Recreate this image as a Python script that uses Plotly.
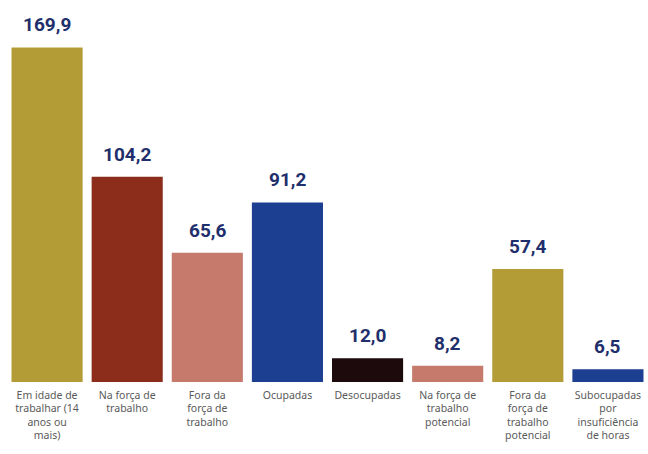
import plotly.graph_objects as go

categories = [
    "Em idade de<br>trabalhar (14<br>anos ou<br>mais)",
    "Na força de<br>trabalho",
    "Fora da<br>força de<br>trabalho",
    "Ocupadas",
    "Desocupadas",
    "Na força de<br>trabalho<br>potencial",
    "Fora da<br>força de<br>trabalho<br>potencial",
    "Subocupadas<br>por<br>insuficiência<br>de horas",
]
values = [169.9, 104.2, 65.6, 91.2, 12.0, 8.2, 57.4, 6.5]
colors = ["#b39b36", "#8c2d1b", "#c57a6c", "#1c3f92", "#1c0a0c", "#c57a6c", "#b39b36", "#1c3f92"]

xs = list(range(len(values)))

fig = go.Figure()
fig.add_trace(go.Bar(
    x=xs,
    y=values,
    marker=dict(color=colors, line=dict(width=0)),
    showlegend=False,
    hoverinfo="skip",
))

for xi, v in zip(xs, values):
    fig.add_annotation(
        x=xi, y=v, xref="x", yref="y",
        text=f"{v:.1f}".replace(".", ","),
        showarrow=False, yanchor="bottom", yshift=9,
        font=dict(family="Roboto", size=19, color="#1f2f6b", weight="bold"),
    )

fig.update_layout(
    width=648, height=454,
    margin=dict(l=7, r=0, t=0, b=72),
    paper_bgcolor="white",
    plot_bgcolor="white",
    bargap=0.1125,
    xaxis=dict(
        tickmode="array",
        tickvals=xs,
        ticktext=categories,
        tickfont=dict(family="Noto Sans", size=10.5, color="#5a5a5a"),
        ticklabelstandoff=5,
        showgrid=False, zeroline=False, showline=False, ticks="",
        range=[-0.5, 7.5],
    ),
    yaxis=dict(range=[0, 194], visible=False),
)

fig.write_html("out.html")
